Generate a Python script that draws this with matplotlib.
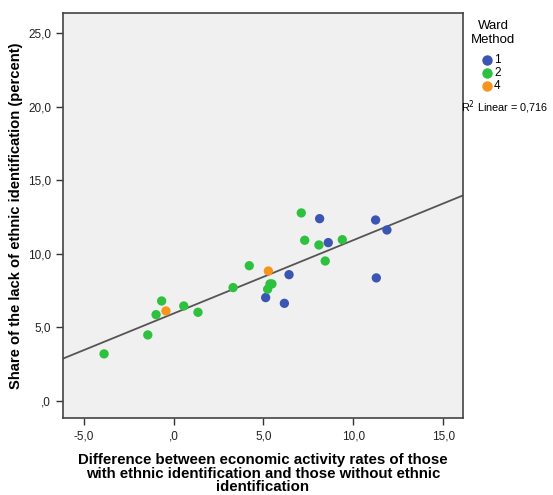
import numpy as np
import matplotlib
matplotlib.use('Agg')
import matplotlib.pyplot as plt
from matplotlib.ticker import FuncFormatter
from matplotlib.lines import Line2D

plt.rcParams['font.family'] = ['Liberation Sans', 'DejaVu Sans']

# cluster 1 (Ward Method)
x1 = [5.12, 6.16, 6.42, 8.12, 8.60, 11.23, 11.86, 11.27]
y1 = [7.03, 6.64, 8.59, 12.40, 10.77, 12.31, 11.63, 8.37]
# cluster 2
x2 = [-3.86, -1.43, -0.97, -0.66, 0.57, 1.36, 3.31, 4.21,
      5.23, 5.36, 5.47, 7.10, 7.29, 8.08, 8.43, 9.38]
y2 = [3.20, 4.49, 5.87, 6.80, 6.46, 6.03, 7.71, 9.20,
      7.60, 7.96, 7.96, 12.79, 10.93, 10.61, 9.52, 10.97]
# cluster 4
x4 = [-0.42, 5.27]
y4 = [6.12, 8.84]

labels = ['1', '2', '4']
colors = ['#3b55b3', '#2ec13f', '#f7941d']
xticks = [-5, 0, 5, 10, 15]
yticks = [0, 5, 10, 15, 20, 25]
r2_text = 'R$^2$ Linear = 0,716'


def spss_fmt(v, pos):
    s = '%.1f' % v
    s = s.replace('.', ',')
    if s.startswith('0,'):
        s = s[1:]
    elif s.startswith('-0,'):
        s = '-' + s[2:]
    return s


W, H = 553, 495
fig = plt.figure(figsize=(W / 100, H / 100), dpi=100)
ax = fig.add_axes([0.114, 0.155, 0.723, 0.819])
ax.set_facecolor('#f0f0f0')

xlim = (-6.14, 16.08)
ylim = (-1.18, 26.4)

# linear fit over all points
xa = np.array(x1 + x2 + x4)
ya = np.array(y1 + y2 + y4)
slope, icpt = np.polyfit(xa, ya, 1)
lx = np.array(xlim)
ax.plot(lx, icpt + slope * lx, color='#555555', lw=1.3, zorder=2)

for xs, ys, c in zip([x1, x2, x4], [y1, y2, y4], colors):
    ax.scatter(xs, ys, s=45, color=c, edgecolors='none', zorder=3)

ax.set_xlim(*xlim)
ax.set_ylim(*ylim)
ax.set_xticks(xticks)
ax.set_yticks(yticks)
ax.xaxis.set_major_formatter(FuncFormatter(spss_fmt))
ax.yaxis.set_major_formatter(FuncFormatter(spss_fmt))
ax.tick_params(direction='out', length=5, width=1, colors='#333333',
               labelsize=8.5, labelcolor='#222222')
for sp in ax.spines.values():
    sp.set_color('#444444')
    sp.set_linewidth(1.2)

ax.set_xlabel('Difference between economic activity rates of those\n'
              'with ethnic identification and those without ethnic\n'
              'identification', fontsize=10.8, fontweight='bold',
              linespacing=0.95, labelpad=8)
ax.set_ylabel('Share of the lack of ethnic identification (percent)',
              fontsize=10.6, fontweight='bold', labelpad=4)

# legend drawn by hand, positions in figure pixels
fig.text(493 / W, 1 - 26 / H, 'Ward', fontsize=9.5, ha='center', va='center')
fig.text(493 / W, 1 - 40 / H, 'Method', fontsize=9.5, ha='center', va='center')
for i, (lab, c) in enumerate(zip(labels, colors)):
    yy = 1 - (60 + 13 * i) / H
    fig.add_artist(Line2D([487 / W], [yy], marker='o', ls='none',
                          markersize=7.5, markerfacecolor=c,
                          markeredgecolor='none', transform=fig.transFigure))
    fig.text(494 / W, yy, lab, fontsize=8.5, ha='left', va='center')

fig.text(461 / W, 1 - 107 / H, r2_text, fontsize=7.8, ha='left', va='center')

fig.savefig('out.png', dpi=100)
